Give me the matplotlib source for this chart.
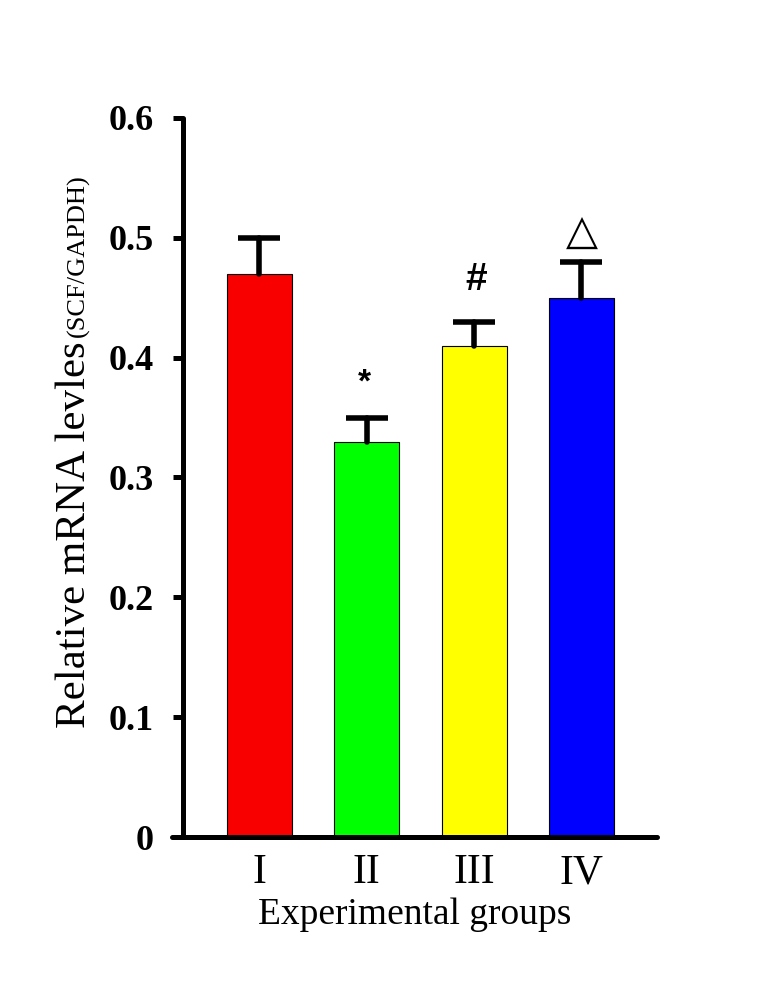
import matplotlib.pyplot as plt

groups = ['I', 'II', 'III', 'IV']
values = [0.47, 0.33, 0.41, 0.45]
errors = [0.03, 0.02, 0.02, 0.03]
colors = ['#f80000', '#00ff00', '#ffff00', '#0000ff']
marks = ['', '*', '#', '△']
mark_y = [None, 0.379, 0.465, 0.504]
yticks = [0, 0.1, 0.2, 0.3, 0.4, 0.5, 0.6]
ytick_labels = ['0', '0.1', '0.2', '0.3', '0.4', '0.5', '0.6']

serif = 'Liberation Serif'
W, H = 781, 991

fig = plt.figure(figsize=(W / 100, H / 100), dpi=100)
ax = fig.add_axes([172 / W, 1 - 837 / H, 485 / W, 719 / H])

x = list(range(len(groups)))
ax.bar(x, values, width=0.606, color=colors, edgecolor='black', linewidth=0.8, zorder=2)

eb = ax.errorbar(x, values, yerr=[[0] * len(errors), errors], fmt='none',
                 ecolor='black', elinewidth=4, capsize=15, capthick=4, zorder=3)
# hide the caps that sit on the bar tops
for cap in eb[1]:
    if list(cap.get_ydata()) == values:
        cap.set_visible(False)
for lc in eb[2]:
    lc.set_capstyle('round')

for xi, m, my in zip(x, marks, mark_y):
    if m == '△':
        ax.text(xi, my, m, ha='center', va='center', fontsize=30, family='DejaVu Sans')
    elif m == '#':
        ax.text(xi + 0.02, my, m, ha='center', va='center', fontsize=28, fontweight='bold',
                family='Liberation Sans')
    elif m == '*':
        ax.text(xi - 0.02, my, m, ha='center', va='center', fontsize=24, fontweight='bold',
                family='Liberation Sans')

ax.set_xlim(-0.815, 3.704)
ax.set_ylim(0, 0.6)

for s in ['top', 'right']:
    ax.spines[s].set_visible(False)
for s in ['left', 'bottom']:
    ax.spines[s].set_linewidth(3.6)
    ax.spines[s].set_capstyle('round')
ax.spines['left'].set_position(('axes', 11 / 485))

ax.set_yticks(yticks)
ax.set_yticklabels(ytick_labels, fontsize=26, fontweight='bold', family=serif)
ax.tick_params(axis='y', direction='out', length=7, width=3.6, pad=14)
ax.set_xticks(x)
ax.set_xticklabels(groups, fontsize=30, family=serif)
ax.tick_params(axis='x', length=0, pad=12)

ax.set_xlabel('Experimental groups', fontsize=27, family=serif, labelpad=4)

# y label in two sizes, baseline at x=85px
t1 = fig.text(85 / W, 1 - 728 / H, 'Relative mRNA levles', rotation=90,
              rotation_mode='anchor', ha='left', va='baseline', fontsize=31, family=serif)
fig.canvas.draw()
bb = t1.get_window_extent()
fig.text(84 / W, (bb.y1 + 4) / H, '(SCF/GAPDH)', rotation=90,
         rotation_mode='anchor', ha='left', va='baseline', fontsize=19, family=serif)

fig.savefig('out.png', dpi=100)
